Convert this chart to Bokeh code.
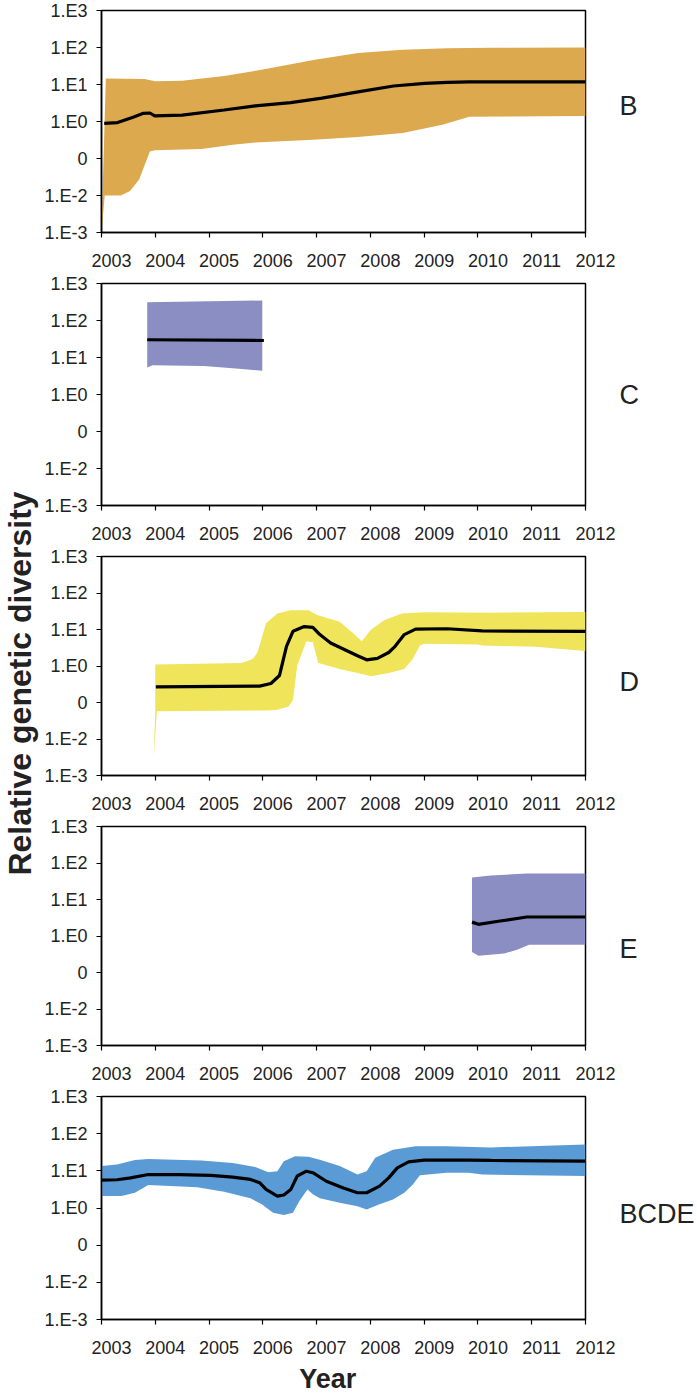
import math
from bokeh.plotting import figure
from bokeh.models import Range1d, FixedTicker, Label
from bokeh.layouts import row, column
from bokeh.embed import file_html
from bokeh.resources import INLINE

# ---------------- data ----------------
years = list(range(2003, 2013))
ytick_vals = [3, 2, 1, 0, -1, -2, -3]
ytick_labels = ["1.E3", "1.E2", "1.E1", "1.E0", "0", "1.E-2", "1.E-3"]

# Panel B (log10 relative genetic diversity)
b_mid_x = [2003.05, 2003.3, 2003.6, 2003.78, 2003.9, 2003.99, 2004.5, 2005.28, 2005.86, 2006.52, 2007.1, 2007.77, 2008.43, 2009.01, 2009.43, 2009.84, 2012.0]
b_mid_y = [-0.05, -0.03, 0.12, 0.22, 0.23, 0.15, 0.17, 0.31, 0.42, 0.51, 0.63, 0.80, 0.96, 1.03, 1.06, 1.07, 1.07]
b_up_x = [2003.0, 2003.08, 2003.8, 2004.0, 2004.5, 2005.28, 2006.1, 2006.94, 2007.77, 2008.6, 2009.43, 2010.26, 2012.0]
b_up_y = [-3.0, 1.16, 1.15, 1.09, 1.10, 1.23, 1.43, 1.66, 1.85, 1.94, 1.98, 1.99, 2.0]
b_lo_x = [2003.0, 2003.06, 2003.36, 2003.53, 2003.70, 2003.90, 2003.99, 2004.86, 2005.44, 2005.86, 2006.94, 2007.77, 2008.6, 2009.34, 2009.84, 2012.0]
b_lo_y = [-3.0, -2.0, -2.0, -1.88, -1.57, -0.81, -0.78, -0.74, -0.63, -0.57, -0.49, -0.42, -0.31, -0.09, 0.13, 0.15]

# Panel C
c_mid_x = [2003.85, 2006.02]
c_mid_y = [1.48, 1.46]
c_up_x = [2003.85, 2005.99]
c_up_y = [2.49, 2.54]
c_lo_x = [2003.85, 2003.95, 2004.9, 2005.5, 2005.99]
c_lo_y = [0.73, 0.79, 0.77, 0.70, 0.64]

# Panel D
d_mid_x = [2004.01, 2005.94, 2006.15, 2006.31, 2006.44, 2006.56, 2006.77, 2006.93, 2007.06, 2007.26, 2007.76, 2007.93, 2008.13, 2008.34, 2008.46, 2008.63, 2008.84, 2009.42, 2010.08, 2012.0]
d_mid_y = [-0.57, -0.55, -0.48, -0.26, 0.54, 0.95, 1.08, 1.06, 0.86, 0.63, 0.28, 0.17, 0.21, 0.37, 0.54, 0.86, 1.01, 1.02, 0.96, 0.95]
d_up_x = [2003.97, 2004.0, 2004.0, 2005.61, 2005.81, 2005.90, 2006.06, 2006.27, 2006.52, 2006.85, 2007.02, 2007.43, 2007.68, 2007.84, 2008.01, 2008.26, 2008.59, 2009.0, 2010.24, 2012.0]
d_up_y = [-2.5, -1.2, 0.04, 0.08, 0.19, 0.37, 1.17, 1.44, 1.53, 1.53, 1.39, 1.21, 0.90, 0.68, 0.99, 1.26, 1.44, 1.47, 1.46, 1.48]
d_lo_x = [2003.97, 2004.03, 2006.1, 2006.27, 2006.48, 2006.56, 2006.64, 2006.73, 2006.81, 2006.93, 2007.03, 2007.43, 2007.76, 2008.01, 2008.34, 2008.63, 2008.79, 2008.92, 2009.0, 2010.0, 2010.08, 2011.07, 2012.0]
d_lo_y = [-2.5, -1.24, -1.22, -1.2, -1.11, -0.93, 0.01, 0.37, 0.68, 0.65, 0.08, -0.08, -0.19, -0.28, -0.19, -0.08, 0.19, 0.56, 0.61, 0.59, 0.56, 0.53, 0.41]

# Panel E
e_mid_x = [2009.89, 2010.01, 2010.41, 2010.91, 2012.0]
e_mid_y = [0.38, 0.32, 0.41, 0.52, 0.52]
e_up_x = [2009.89, 2010.24, 2010.91, 2012.0]
e_up_y = [1.60, 1.66, 1.71, 1.71]
e_lo_x = [2009.89, 2010.01, 2010.49, 2010.74, 2010.95, 2012.0]
e_lo_y = [-0.44, -0.54, -0.48, -0.37, -0.24, -0.24]

# Panel BCDE
a_mid_x = [2003.0, 2003.29, 2003.54, 2003.87, 2004.45, 2005.03, 2005.44, 2005.77, 2005.94, 2006.06, 2006.27, 2006.39, 2006.52, 2006.64, 2006.81, 2006.93, 2007.18, 2007.51, 2007.76, 2007.93, 2008.17, 2008.34, 2008.5, 2008.71, 2009.0, 2009.83, 2010.24, 2012.0]
a_mid_y = [0.75, 0.76, 0.81, 0.90, 0.90, 0.88, 0.83, 0.77, 0.68, 0.50, 0.32, 0.35, 0.50, 0.86, 0.99, 0.95, 0.72, 0.53, 0.41, 0.41, 0.59, 0.81, 1.08, 1.24, 1.29, 1.29, 1.28, 1.26]
a_up_x = [2003.0, 2003.29, 2003.62, 2003.87, 2004.86, 2005.44, 2005.86, 2006.1, 2006.27, 2006.39, 2006.6, 2006.85, 2007.06, 2007.43, 2007.76, 2007.93, 2008.09, 2008.42, 2008.84, 2009.42, 2010.24, 2012.0]
a_up_y = [1.13, 1.17, 1.29, 1.32, 1.28, 1.21, 1.10, 0.96, 0.99, 1.26, 1.39, 1.38, 1.30, 1.13, 0.90, 0.99, 1.35, 1.57, 1.66, 1.66, 1.63, 1.71]
a_lo_x = [2003.0, 2003.37, 2003.62, 2003.87, 2004.78, 2005.28, 2005.77, 2005.98, 2006.19, 2006.39, 2006.56, 2006.68, 2006.83, 2006.93, 2007.06, 2007.43, 2007.76, 2007.93, 2008.17, 2008.42, 2008.63, 2008.79, 2008.92, 2009.42, 2009.83, 2010.08, 2012.0]
a_lo_y = [0.32, 0.32, 0.41, 0.62, 0.56, 0.44, 0.26, 0.10, -0.13, -0.19, -0.13, 0.19, 0.5, 0.37, 0.26, 0.14, 0.05, -0.04, 0.10, 0.23, 0.41, 0.63, 0.88, 0.95, 0.95, 0.90, 0.86]

panel_names = ["B", "C", "D", "E", "BCDE"]
panel_colors = ["#DDA94F", "#8A8EC3", "#EFE45A", "#8A8EC3", "#5B9BD5"]

# ---------------- layout / style ----------------
FONT = "Liberation Sans"
TXT = "#222222"
FRAME_W = 484
LEFT_W = 40
BORDER_L = 61
BORDER_R = 32
PANEL_W = BORDER_L + FRAME_W + BORDER_R
RIGHT_W = 697 - LEFT_W - PANEL_W
TOTAL_H = 1394
panel_heights = [273, 273, 270, 270, 274]
YEAR_H = TOTAL_H - sum(panel_heights)
TOP = 10
# vertical centre of each panel name, in px below that panel's frame top
name_offsets = [95.5, 111.5, 125, 122, 117.5]
NBSP = "\u00a0" * 4  # nudges year labels right of their ticks, as in the original
px_per_year = FRAME_W / 9.0


def make_panel(height, band, color, mid):
    p = figure(width=PANEL_W, height=height,
               x_range=Range1d(2003, 2012), y_range=Range1d(-3, 3),
               output_backend="svg", toolbar_location=None,
               min_border_left=BORDER_L, min_border_right=BORDER_R,
               min_border_top=TOP, min_border_bottom=height - TOP - 224)
    p.xgrid.visible = False
    p.ygrid.visible = False
    p.outline_line_color = "black"
    p.outline_line_width = 1.5
    p.outline_line_alpha = 1.0

    ya = p.yaxis[0]
    ya.ticker = FixedTicker(ticks=ytick_vals)
    ya.major_label_overrides = {v: t for v, t in zip(ytick_vals, ytick_labels)}
    ya.major_tick_out = 5
    ya.major_tick_in = 0
    ya.minor_tick_line_color = None
    ya.axis_line_width = 1.5
    ya.major_tick_line_width = 1.2
    ya.major_label_text_font = FONT
    ya.major_label_text_font_size = "18px"
    ya.major_label_text_color = TXT
    ya.major_label_standoff = 9

    xa = p.xaxis[0]
    xa.ticker = FixedTicker(ticks=years)
    xa.major_label_overrides = {yr: NBSP + str(yr) for yr in years}
    xa.major_tick_out = 5
    xa.major_tick_in = 0
    xa.minor_tick_line_color = None
    xa.axis_line_width = 1.5
    xa.major_tick_line_width = 1.2
    xa.major_label_text_font = FONT
    xa.major_label_text_font_size = "18px"
    xa.major_label_text_color = TXT
    xa.major_label_standoff = 13

    ux, uy, lx, ly = band
    p.patch(list(ux) + list(reversed(lx)), list(uy) + list(reversed(ly)),
            fill_color=color, line_color=None)
    mx, my = mid
    p.line(mx, my, line_color="black", line_width=3.2)
    return p


bands = [(b_up_x, b_up_y, b_lo_x, b_lo_y), (c_up_x, c_up_y, c_lo_x, c_lo_y),
         (d_up_x, d_up_y, d_lo_x, d_lo_y), (e_up_x, e_up_y, e_lo_x, e_lo_y),
         (a_up_x, a_up_y, a_lo_x, a_lo_y)]
mids = [(b_mid_x, b_mid_y), (c_mid_x, c_mid_y), (d_mid_x, d_mid_y),
        (e_mid_x, e_mid_y), (a_mid_x, a_mid_y)]
panels = [make_panel(h, bd, c, m) for h, bd, c, m in zip(panel_heights, bands, panel_colors, mids)]


def blank(width, height):
    f = figure(width=width, height=height, x_range=Range1d(0, width),
               y_range=Range1d(0, height), output_backend="svg",
               toolbar_location=None, x_axis_location=None, y_axis_location=None,
               min_border=0)
    f.xgrid.visible = False
    f.ygrid.visible = False
    f.outline_line_color = None
    return f


# "Year" strip under the last panel (pixel coordinates of the panel above)
year_fig = blank(PANEL_W, YEAR_H)
year_x = BORDER_L + (2006.88 - 2003) * px_per_year
year_fig.add_layout(Label(x=year_x, y=YEAR_H / 2.0 - 1, text="Year", text_font=FONT,
                          text_font_size="27px", text_font_style="bold",
                          text_color=TXT, text_align="center", text_baseline="middle"))

# shared y-axis title
left = blank(LEFT_W, TOTAL_H)
left.add_layout(Label(x=19.5, y=TOTAL_H - 683, text="Relative genetic diversity",
                      angle=math.pi / 2, text_font=FONT, text_font_size="32px",
                      text_font_style="bold", text_color=TXT,
                      text_align="center", text_baseline="middle"))

# panel names on the right
right = blank(RIGHT_W, TOTAL_H)
top_acc = 0
for h, name, off in zip(panel_heights, panel_names, name_offsets):
    y_page = top_acc + TOP + off
    right.add_layout(Label(x=2, y=TOTAL_H - y_page, text=name, text_font=FONT,
                           text_font_size="27px", text_color=TXT,
                           text_align="left", text_baseline="middle"))
    top_acc += h

layout = row(left, column(*panels, year_fig), right)
open("out.html", "w").write(file_html(layout, INLINE))
